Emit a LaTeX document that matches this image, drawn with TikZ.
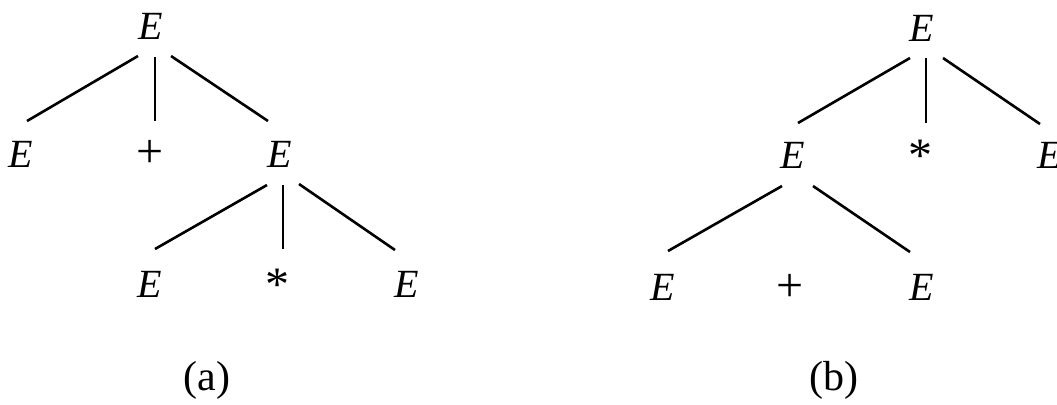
\documentclass[tikz,border=0pt]{standalone}
\usepackage{fontspec}
\setmainfont{Liberation Serif}
\usepackage{tikz}
\usetikzlibrary{positioning,calc}

\begin{document}
\begin{tikzpicture}[
    x=0.5pt, y=-0.5pt,
    sym/.style={anchor=base, inner sep=0pt, font=\fontsize{20}{24}\selectfont},
    op/.style={sym, font=\fontsize{24}{28}\selectfont},
    caption/.style={anchor=base, inner sep=0pt, font=\fontsize{21}{25}\selectfont},
    branch/.style={line width=1.3pt, black}
]
\useasboundingbox (0,0) rectangle (1057,404);

% Tree (a)
\node[sym] (ra) at (151,39) {\textit{E}};
\node[sym] (a1) at (21,167) {\textit{E}};
\node[op] (a2) at (150,167) {+};
\node[sym] (a3) at (280,167) {\textit{E}};
\node[sym] (a4) at (150,297) {\textit{E}};
\node[op] (a5) at (277,300) {*};
\node[sym] (a6) at (407,297) {\textit{E}};

\draw[branch] ([shift={(-13,17)}]ra.base) -- ([shift={(6,-46)}]a1.base);
\draw[branch] ([shift={(4,18)}]ra.base) -- ([shift={(5,-46)}]a2.base);
\draw[branch] ([shift={(20,17)}]ra.base) -- ([shift={(-12,-46)}]a3.base);
\draw[branch] ([shift={(-13,18)}]a3.base) -- ([shift={(5,-48)}]a4.base);
\draw[branch] ([shift={(3,18)}]a3.base) -- ([shift={(6,-51)}]a5.base);
\draw[branch] ([shift={(19,17)}]a3.base) -- ([shift={(-12,-47)}]a6.base);

% Tree (b)
\node[sym] (rb) at (922,41) {\textit{E}};
\node[sym] (b1) at (793,168) {\textit{E}};
\node[op] (b2) at (920,171) {*};
\node[sym] (b3) at (1050,168) {\textit{E}};
\node[sym] (b4) at (663,300) {\textit{E}};
\node[op] (b5) at (790,301) {+};
\node[sym] (b6) at (922,300) {\textit{E}};

\draw[branch] ([shift={(-12,17)}]rb.base) -- ([shift={(5,-45)}]b1.base);
\draw[branch] ([shift={(4,17)}]rb.base) -- ([shift={(6,-48)}]b2.base);
\draw[branch] ([shift={(21,17)}]rb.base) -- ([shift={(-10,-44)}]b3.base);
\draw[branch] ([shift={(-11,18)}]b1.base) -- ([shift={(5,-49)}]b4.base);
\draw[branch] ([shift={(20,18)}]b1.base) -- ([shift={(-12,-48)}]b6.base);

% Captions
\node[caption] (capa) at (207,390) {(a)};
\node[caption] (capb) at (834,390) {(b)};

\end{tikzpicture}
\end{document}
